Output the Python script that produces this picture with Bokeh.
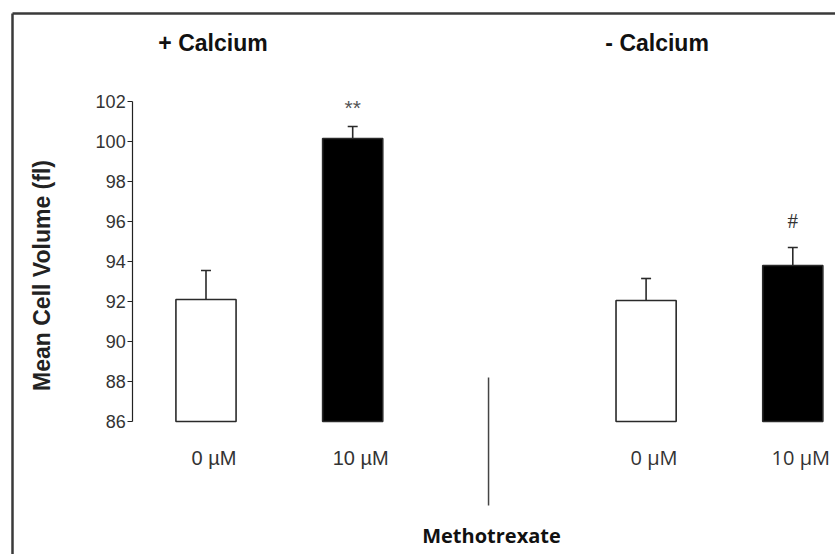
import math
from bokeh.plotting import figure
from bokeh.models import Range1d, LinearAxis, FixedTicker
from bokeh.core.properties import value
from bokeh.embed import file_html
from bokeh.resources import INLINE

# ---- data ----
groups = ["+ Calcium", "- Calcium"]
concentrations = ["0 µM", "10 µM", "0 µM", "10 µM"]
x_pos = [1, 2, 4, 5]
means = [92.1, 100.15, 92.05, 93.8]
sems = [1.45, 0.6, 1.1, 0.9]
significance = ["**", "#"]
significance_x = [2, 5]
significance_y = [101.7, 96.05]
y_ticks = [86, 88, 90, 92, 94, 96, 98, 100, 102]
y_base = 86
y_top = 102
bar_fills = ["white", "black", "white", "black"]
x_title = "Methotrexate"
y_title = "Mean Cell Volume (fl)"

upper = [m + s for m, s in zip(means, sems)]

p = figure(width=835, height=554,
           x_range=Range1d(-0.4008, 5.2911), y_range=Range1d(79.35, 107.05),
           x_axis_location=None, y_axis_location=None,
           toolbar_location=None, output_backend="svg",
           min_border=0, min_border_left=0, min_border_right=0,
           min_border_top=0, min_border_bottom=0,
           outline_line_color=None, background_fill_color="white",
           border_fill_color="white")
p.grid.visible = False

# outer frame lines (left and top)
p.segment(x0=[-0.319, -0.319], y0=[106.4, 106.4], x1=[-0.319, 5.4], y1=[79.0, 106.4],
          line_color="#3a3a3a", line_width=2.5)

# y axis
yaxis = LinearAxis(fixed_location=0.5, bounds=(y_base, y_top),
                   ticker=FixedTicker(ticks=y_ticks),
                   major_tick_in=0, major_tick_out=5,
                   minor_tick_line_color=None,
                   major_label_standoff=2,
                   major_label_text_font="Liberation Sans",
                   major_label_text_font_size="18px",
                   major_label_text_color="#333333",
                   axis_line_color="#222222", axis_line_width=1.2,
                   major_tick_line_color="#222222", major_tick_line_width=1.2)
p.add_layout(yaxis, "left")

# bars
p.vbar(x=x_pos, top=means, bottom=y_base, width=0.41,
       fill_color=bar_fills, line_color="#2a2a2a", line_width=1.6)

# error bars (upper only)
p.segment(x0=x_pos, y0=means, x1=x_pos, y1=upper, line_color="#2a2a2a", line_width=1.6)
p.segment(x0=[x - 0.034 for x in x_pos], y0=upper, x1=[x + 0.034 for x in x_pos], y1=upper,
          line_color="#2a2a2a", line_width=1.6)

# significance marks
p.text(x=significance_x[:1], y=significance_y[:1], text=significance[:1],
       text_font=value("Liberation Sans"), text_font_size="21px", text_color="#555555",
       text_align="center", text_baseline="middle")
p.text(x=significance_x[1:], y=significance_y[1:], text=significance[1:],
       text_font=value("Liberation Serif"), text_font_size="21px", text_color="#333333",
       text_align="center", text_baseline="middle")

# category labels
p.text(x=x_pos[:2], y=[84.2] * 2, text=concentrations[:2], x_offset=8,
       text_font=value("Liberation Sans"), text_font_size="20px", text_color="#333333",
       text_align="center", text_baseline="middle")
p.text(x=x_pos[2:], y=[84.2] * 2, text=concentrations[2:], x_offset=8,
       text_font=value("Open Sans"), text_font_size="20px", text_color="#333333",
       text_align="center", text_baseline="middle")

# group headers
p.text(x=[x_pos[0], x_pos[2]], y=[104.95, 104.95], text=groups, x_offset=[7, 11],
       text_font=value("Liberation Sans"), text_font_size="23px", text_font_style="bold",
       text_color="#111111", text_align="center", text_baseline="middle")

# divider + x title
p.segment(x0=[2.926], y0=[88.2], x1=[2.926], y1=[81.8], line_color="#444444", line_width=1.5)
p.text(x=[2.946], y=[80.3], text=[x_title],
       text_font=value("Open Sans"), text_font_size="20px", text_font_style="bold",
       text_color="#111111", text_align="center", text_baseline="middle")

# y title
p.text(x=[-0.121], y=[93.3], text=[y_title], angle=math.pi / 2,
       text_font=value("Liberation Sans"), text_font_size="23px", text_font_style="bold",
       text_color="#222222", text_align="center", text_baseline="middle")

open("out.html", "w").write(file_html(p, INLINE))
